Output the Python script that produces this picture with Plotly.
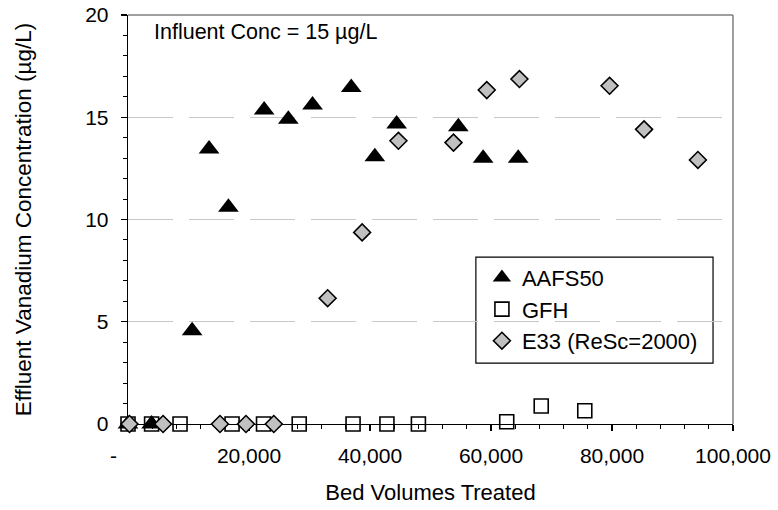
import plotly.graph_objects as go

# ---- data ----
aafs_x = [0, 3900, 10600, 13400, 16600, 22500, 26500, 30500, 36900, 40800, 44400, 54600, 58700, 64500]
aafs_y = [0, 0, 4.56, 13.45, 10.6, 15.35, 14.9, 15.6, 16.45, 13.07, 14.67, 14.54, 13.0, 13.0]

gfh_x = [0, 3900, 8600, 17200, 22400, 28300, 37200, 42800, 48000, 62600, 68300, 75500]
gfh_y = [0, 0, 0, 0, 0, 0, 0, 0, 0, 0.11, 0.88, 0.65]

e33_x = [250, 5800, 15200, 19500, 24100, 33000, 38700, 44700, 53800, 59300, 64700, 79600, 85300, 94200]
e33_y = [0, 0, 0, 0, 0, 6.15, 9.37, 13.85, 13.76, 16.33, 16.87, 16.54, 14.41, 12.91]

x_tickvals = [0, 20000, 40000, 60000, 80000, 100000]
x_ticktext = ["-" + "\u00a0" * 5, "20,000", "40,000", "60,000", "80,000", "100,000"]
y_tickvals = [0, 5, 10, 15, 20]

series_names = ["AAFS50", "GFH", "E33 (ReSc=2000)"]
note_text = "Influent Conc = 15 µg/L"
x_title = "Bed Volumes Treated"
y_title = "Effluent Vanadium Concentration (µg/L)"

FONT = "Arial, 'Liberation Sans', sans-serif"

fig = go.Figure()
fig.add_trace(go.Scatter(
    x=aafs_x, y=aafs_y, mode="markers", name=series_names[0], legendgroup="a",
    marker=dict(symbol="triangle-up", size=18, color="black", line=dict(width=0)),
    cliponaxis=False))
fig.add_trace(go.Scatter(
    x=gfh_x, y=gfh_y, mode="markers", name=series_names[1], legendgroup="b",
    marker=dict(symbol="square-open", size=14, color="black", line=dict(width=1.6)),
    cliponaxis=False))
fig.add_trace(go.Scatter(
    x=e33_x, y=e33_y, mode="markers", name=series_names[2], legendgroup="c",
    marker=dict(symbol="diamond", size=13, color="#c0c0c0", line=dict(width=1.6, color="black")),
    cliponaxis=False))

fig.update_layout(
    width=778, height=510,
    margin=dict(l=128, r=45, t=15, b=86),
    paper_bgcolor="white", plot_bgcolor="white",
    font=dict(family=FONT, size=21, color="black"),
    hovermode=False,
    showlegend=True,
    legend=dict(x=0.585, y=0.409, xanchor="left", yanchor="top",
                bgcolor="rgba(0,0,0,0)", borderwidth=0,
                font=dict(size=22), tracegroupgap=0),
    xaxis=dict(range=[0, 100000], tickvals=x_tickvals, ticktext=x_ticktext,
               ticks="outside", ticklen=6, tickwidth=1.2, tickcolor="black",
               showline=True, linecolor="black", linewidth=1.3,
               showgrid=False, zeroline=False, automargin=False,
               ticklabeloverflow="allow",
               minor=dict(ticks="outside", ticklen=4, tickwidth=1, tickcolor="black",
                          dtick=4000, tick0=0, showgrid=False),
               ticklabelstandoff=6,
               title=dict(text=x_title, font=dict(size=22), standoff=19),
               layer="below traces"),
    yaxis=dict(range=[0, 20], tickvals=y_tickvals,
               ticks="outside", ticklen=6, tickwidth=1.2, tickcolor="black",
               showline=True, linecolor="black", linewidth=1.3,
               showgrid=True, gridcolor="#c8c8c8", gridwidth=1, griddash="45px,16px",
               zeroline=False, automargin=False,
               ticklabeloverflow="allow",
               minor=dict(ticks="outside", ticklen=4, tickwidth=1, tickcolor="black",
                          dtick=1, tick0=0, showgrid=False),
               ticklabelstandoff=8,
               title=dict(text=y_title, font=dict(size=22.5), standoff=47),
               layer="below traces"),
    xaxis2=dict(range=[0, 100000], overlaying="x", anchor="y", side="bottom",
                tickvals=x_tickvals, ticks="inside", ticklen=6, tickwidth=1.2,
                tickcolor="black", showticklabels=False, showline=False,
                showgrid=False, zeroline=False, automargin=False),
    yaxis2=dict(range=[0, 20], overlaying="y", anchor="x", side="left",
                tickvals=y_tickvals, ticks="inside", ticklen=5, tickwidth=1.2,
                tickcolor="black", showticklabels=False, showline=False,
                showgrid=False, zeroline=False, automargin=False),
    shapes=[
        dict(type="line", xref="paper", yref="paper", x0=0, x1=1, y0=1, y1=1,
             line=dict(color="#7f7f7f", width=1.5)),
        dict(type="line", xref="paper", yref="paper", x0=1, x1=1, y0=0, y1=1,
             line=dict(color="#7f7f7f", width=1.5)),
        dict(type="rect", xref="paper", yref="paper", x0=0.575, x1=0.967,
             y0=0.149, y1=0.408, layer="between",
             line=dict(color="black", width=1.2), fillcolor="white"),
    ],
    annotations=[
        dict(text=note_text, xref="paper", yref="paper", x=0.04, y=0.958,
             xanchor="left", yanchor="middle", showarrow=False,
             font=dict(size=21.5))
    ],
)

fig.write_html("out.html",
               config={"displayModeBar": False, "staticPlot": True},
               post_script="document.body.style.margin='0';document.body.style.padding='0';")
